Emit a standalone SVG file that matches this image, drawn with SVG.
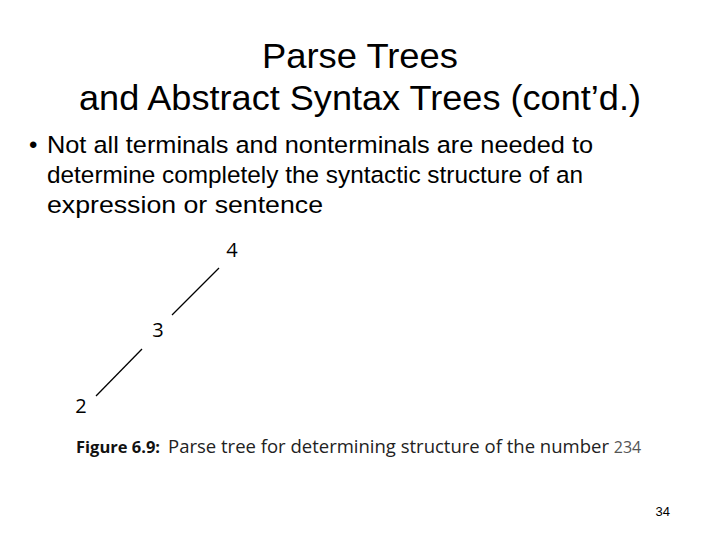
<svg xmlns="http://www.w3.org/2000/svg" width="720" height="540" viewBox="0 0 720 540">
<style>
.t{font-family:"Liberation Sans",Arial,sans-serif;fill:#000}
.n{font-family:"Open Sans","DejaVu Sans",sans-serif;font-size:20px;fill:#000;text-anchor:middle}
.e{stroke:#000;stroke-width:1.3;fill:none}
</style>
<rect width="720" height="540" fill="#fff"/>
<text class="t" x="262" y="68" font-size="35" textLength="196" lengthAdjust="spacingAndGlyphs">Parse Trees</text>
<text class="t" x="79" y="110" font-size="35" textLength="562" lengthAdjust="spacingAndGlyphs">and Abstract Syntax Trees (cont’d.)</text>
<text class="t" x="29" y="153" font-size="24">•</text>
<text class="t" x="47" y="153" font-size="24.5" textLength="546" lengthAdjust="spacingAndGlyphs">Not all terminals and nonterminals are needed to</text>
<text class="t" x="47" y="183" font-size="24.5" textLength="536" lengthAdjust="spacingAndGlyphs">determine completely the syntactic structure of an</text>
<text class="t" x="47" y="213" font-size="24.5" textLength="276" lengthAdjust="spacingAndGlyphs">expression or sentence</text>
<g id="connectors">
<line class="e" x1="219" y1="268" x2="172" y2="315"/>
<line class="e" x1="142" y1="349" x2="96" y2="396"/>
</g>
<g id="n4"><text class="n" x="232" y="257">4</text></g>
<g id="n3"><text class="n" x="158" y="337">3</text></g>
<g id="n2"><text class="n" x="81" y="413">2</text></g>
<text x="76" y="453" font-family="'Open Sans','DejaVu Sans',sans-serif" font-size="16.5" font-weight="bold" fill="#111">Figure 6.9:</text>
<text x="168" y="453" font-family="'Open Sans','DejaVu Sans',sans-serif" font-size="18.5" fill="#222">Parse tree for determining structure of the number <tspan font-size="16" fill="#555">234</tspan></text>
<text class="t" x="670" y="516" font-size="13" text-anchor="end">34</text>
</svg>
